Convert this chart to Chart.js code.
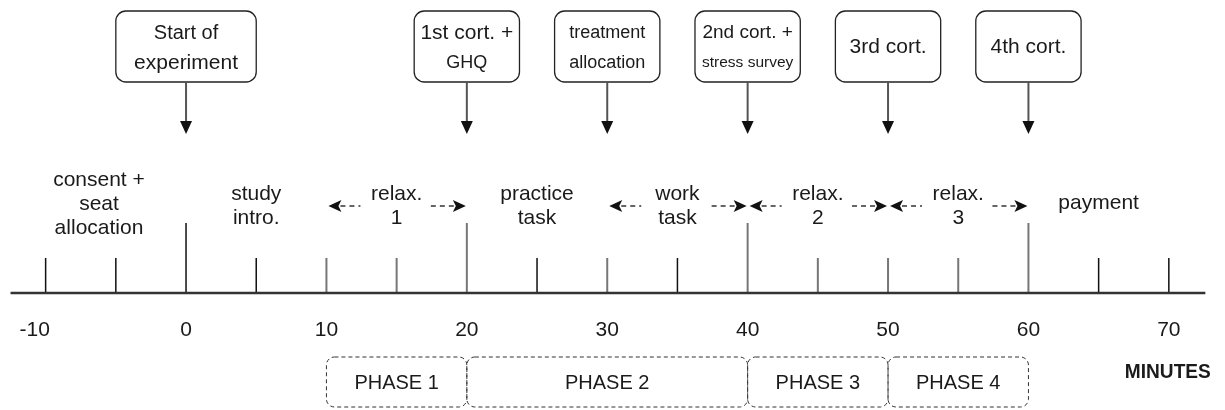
<!DOCTYPE html>
<html lang="en">

<head>
    <meta charset="UTF-8">
    <title>Experiment timeline</title>
    <script src="https://cdn.jsdelivr.net/npm/chart.js"></script>
    <style>
        body { margin: 0; background: #fff; }
        #wrap { width: 1225px; height: 410px; position: relative; }
    </style>
</head>

<body>
    <div id="wrap"><canvas id="timeline"></canvas></div>

    <script>
        // timeline data (minutes)
        const tickMinutes = [-10, -5, 0, 5, 10, 15, 20, 25, 30, 35, 40, 45, 50, 55, 60, 65, 70];
        const majorMinutes = [0, 20, 40, 60];
        const greyMinutes = [10, 15, 20, 30, 40, 45, 50, 55, 60];
        const tickLabels = ['-10', '0', '10', '20', '30', '40', '50', '60', '70'];
        const tickLabelMinutes = [-10, 0, 10, 20, 30, 40, 50, 60, 70];

        const eventLabels = [['Start of', 'experiment'], ['1st cort. +', 'GHQ'], ['treatment', 'allocation'],
            ['2nd cort. +', 'stress survey'], ['3rd cort.'], ['4th cort.']];
        const eventMinutes = [0, 20, 30, 40, 50, 60];

        const activityLabels = [['consent +', 'seat', 'allocation'], ['study', 'intro.'], ['relax.', '1'],
            ['practice', 'task'], ['work', 'task'], ['relax.', '2'], ['relax.', '3'], ['payment']];
        const activityMinutes = [-6.2, 5, 15, 25, 35, 45, 55, 65];
        const arrowSpans = [[10, 20], [30, 40], [40, 50], [50, 60]];

        const phaseLabels = ['PHASE 1', 'PHASE 2', 'PHASE 3', 'PHASE 4'];
        const phaseStarts = [10, 20, 40, 50];
        const phaseEnds = [20, 40, 50, 60];

        // layout rows (y scale runs top to bottom)
        const ROW = { boxTop: 11, boxBottom: 82, arrowTip: 134, base: 293, shortTop: 258, longTop: 223,
            tickText: 330, phaseTop: 357, phaseBottom: 407 };
        const FONT = '"Liberation Sans", Arial, sans-serif';
        const eventFonts = [[20, 21], [21, 18], [18, 18], [19, 15.5], [21], [21]];
        const eventBoxMinutes = [5, 3.75, 3.75, 3.75, 3.75, 3.75];

        function tickData(list) {
            const out = [];
            list.forEach(m => {
                out.push({ x: m, y: ROW.base }, { x: m, y: majorMinutes.includes(m) ? ROW.longTop : ROW.shortTop }, { x: m, y: null });
            });
            return out;
        }

        const drawPlugin = {
            id: 'timelineDraw',
            afterDatasetsDraw(chart) {
                const ctx = chart.ctx;
                const xs = chart.scales.x, ys = chart.scales.y;
                const px = m => xs.getPixelForValue(m);
                const py = v => ys.getPixelForValue(v);
                ctx.save();
                ctx.textAlign = 'center';
                ctx.textBaseline = 'middle';
                ctx.fillStyle = '#1a1a1a';

                // event boxes with arrows
                eventLabels.forEach((lines, i) => {
                    const cx = px(eventMinutes[i]);
                    const half = px(eventMinutes[i] + eventBoxMinutes[i]) - cx;
                    const top = py(ROW.boxTop), bottom = py(ROW.boxBottom);
                    ctx.strokeStyle = '#222';
                    ctx.lineWidth = 1.3;
                    ctx.beginPath();
                    ctx.roundRect(cx - half, top, half * 2, bottom - top, 10);
                    ctx.stroke();
                    lines.forEach((t, j) => {
                        ctx.font = eventFonts[i][j] + 'px ' + FONT;
                        const y = lines.length === 1 ? (top + bottom) / 2 + 1 : top + 22 + j * 30;
                        ctx.fillText(t, cx, y, half * 2 - 4);
                    });
                    ctx.strokeStyle = '#555';
                    ctx.lineWidth = 2;
                    ctx.beginPath();
                    ctx.moveTo(cx, bottom);
                    ctx.lineTo(cx, py(ROW.arrowTip) - 10);
                    ctx.stroke();
                    ctx.fillStyle = '#111';
                    ctx.beginPath();
                    ctx.moveTo(cx - 6, py(ROW.arrowTip) - 13);
                    ctx.lineTo(cx + 6, py(ROW.arrowTip) - 13);
                    ctx.lineTo(cx, py(ROW.arrowTip));
                    ctx.closePath();
                    ctx.fill();
                    ctx.fillStyle = '#1a1a1a';
                });

                // activity labels
                ctx.font = '21px ' + FONT;
                activityLabels.forEach((lines, i) => {
                    const cx = px(activityMinutes[i]);
                    const start = lines.length === 1 ? 203 : lines.length === 2 ? 194 : 180;
                    lines.forEach((t, j) => ctx.fillText(t, cx, py(start + j * 24)));
                });

                // dashed arrows
                const yArr = py(206);
                arrowSpans.forEach(([a, b]) => {
                    const l = px(a) + 2, r = px(b) - 1;
                    ctx.strokeStyle = '#333';
                    ctx.lineWidth = 1.5;
                    ctx.setLineDash([5, 4]);
                    ctx.beginPath();
                    ctx.moveTo(l + 12, yArr); ctx.lineTo(l + 32, yArr);
                    ctx.moveTo(r - 12, yArr); ctx.lineTo(r - 36, yArr);
                    ctx.stroke();
                    ctx.setLineDash([]);
                    ctx.fillStyle = '#111';
                    ctx.beginPath();
                    ctx.moveTo(l, yArr); ctx.lineTo(l + 13, yArr - 6); ctx.lineTo(l + 10, yArr); ctx.lineTo(l + 13, yArr + 6);
                    ctx.closePath(); ctx.fill();
                    ctx.beginPath();
                    ctx.moveTo(r, yArr); ctx.lineTo(r - 13, yArr - 6); ctx.lineTo(r - 10, yArr); ctx.lineTo(r - 13, yArr + 6);
                    ctx.closePath(); ctx.fill();
                    ctx.fillStyle = '#1a1a1a';
                });

                // tick labels
                ctx.font = '21px ' + FONT;
                tickLabels.forEach((t, i) => ctx.fillText(t, px(tickLabelMinutes[i]) - (t[0] === '-' ? 11 : 0), py(ROW.tickText)));

                // phases
                phaseLabels.forEach((t, i) => {
                    const l = px(phaseStarts[i]), r = px(phaseEnds[i]);
                    const top = py(ROW.phaseTop), bottom = py(ROW.phaseBottom);
                    ctx.strokeStyle = '#333';
                    ctx.lineWidth = 1;
                    ctx.setLineDash([4, 3]);
                    ctx.beginPath();
                    ctx.roundRect(l, top, r - l, bottom - top, 8);
                    ctx.stroke();
                    ctx.setLineDash([]);
                    ctx.font = '20px ' + FONT;
                    ctx.fillText(t, (l + r) / 2, (top + bottom) / 2 + 1);
                });

                // axis title
                ctx.font = 'bold 20px ' + FONT;
                ctx.fillText('MINUTES', px(70) - 1, py(372), 86);
                ctx.restore();
            }
        };

        new Chart(document.getElementById('timeline'), {
            type: 'line',
            data: {
                datasets: [
                    { data: [{ x: -12.5, y: ROW.base }, { x: 72.6, y: ROW.base }], borderColor: '#333', borderWidth: 2.5 },
                    { data: tickData(tickMinutes.filter(m => !greyMinutes.includes(m))), borderColor: '#111', borderWidth: 1.5 },
                    { data: tickData(greyMinutes), borderColor: '#777', borderWidth: 2 }
                ]
            },
            options: {
                responsive: true,
                maintainAspectRatio: false,
                animation: false,
                layout: { padding: 0 },
                elements: { point: { radius: 0 } },
                scales: {
                    x: { type: 'linear', min: -13.25, max: 74.0, display: false },
                    y: { type: 'linear', min: 0, max: 410, reverse: true, display: false }
                },
                plugins: { legend: { display: false }, tooltip: { enabled: false } }
            },
            plugins: [drawPlugin]
        });
    </script>
</body>

</html>
